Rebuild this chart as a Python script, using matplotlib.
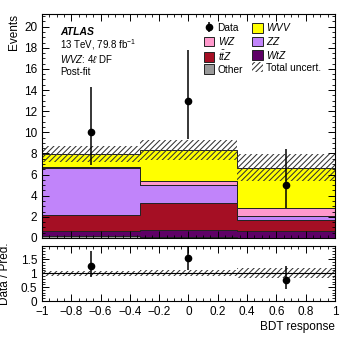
import numpy as np
import matplotlib
matplotlib.use("Agg")
import matplotlib.pyplot as plt
from matplotlib.patches import Patch
from matplotlib.ticker import MultipleLocator, FuncFormatter

plt.rcParams['font.family'] = ['Liberation Sans', 'DejaVu Sans']
plt.rcParams['mathtext.fontset'] = 'custom'
plt.rcParams['mathtext.rm'] = 'Liberation Sans'
plt.rcParams['mathtext.it'] = 'Liberation Sans:italic'
plt.rcParams['mathtext.bf'] = 'Liberation Sans:bold'
plt.rcParams['hatch.linewidth'] = 0.75

# binning of the BDT response
bin_edges = [-1.0, -1.0 / 3, 1.0 / 3, 1.0]

# post-fit yields per sample (stacked bottom -> top)
other = [0.15, 0.05, 0.03]
wtz = [0.50, 0.71, 0.63]
ttz = [1.55, 2.53, 1.04]
zz = [4.40, 1.73, 0.40]
wz = [0.10, 0.38, 0.77]
wvv = [1.23, 2.94, 3.80]
total_unc = [0.75, 0.95, 1.25]

# data with asymmetric (Poisson) errors
data = [10, 13, 5]
data_err_up = [4.3, 4.75, 3.4]
data_err_dn = [3.1, 3.6, 2.2]

samples = [
    ("Other", other, "#999999"),
    (r"$WtZ$", wtz, "#5e0066"),
    (r"$t\bar{t}Z$", ttz, "#a50f24"),
    (r"$ZZ$", zz, "#c184fa"),
    (r"$WZ$", wz, "#ff99cc"),
    (r"$WVV$", wvv, "#ffff00"),
]

edges = np.array(bin_edges)
centers = 0.5 * (edges[:-1] + edges[1:])

fig = plt.figure(figsize=(3.49, 3.37), dpi=100)
ax = fig.add_axes([0.1203, 0.2938, 0.8396, 0.6647])
rax = fig.add_axes([0.1203, 0.1068, 0.8396, 0.1632], sharex=ax)

# stack
base = np.zeros(3)
handles = {}
for name, vals, col in samples:
    vals = np.array(vals)
    ax.stairs(base + vals, edges, baseline=base, fill=True,
              facecolor=col, edgecolor="#222222", linewidth=0.7)
    handles[name] = Patch(facecolor=col, edgecolor="#222222", linewidth=0.7)
    base = base + vals
pred = base

unc = np.array(total_unc)
hatch_col = "#333333"
ax.stairs(pred + unc, edges, baseline=pred - unc, fill=True, facecolor="none",
          edgecolor=hatch_col, linewidth=0, hatch="//////")
unc_handle = Patch(facecolor="none", edgecolor=hatch_col, linewidth=0, hatch="//////")

d = np.array(data, dtype=float)
eb = ax.errorbar(centers, d, yerr=[data_err_dn, data_err_up], fmt="o", color="black",
                 markersize=4.5, elinewidth=1.1, capsize=0, zorder=5)

ax.set_xlim(-1, 1)
ax.set_ylim(0, 21.2)
ax.yaxis.set_major_locator(MultipleLocator(2))
ax.yaxis.set_minor_locator(MultipleLocator(0.5))
ax.xaxis.set_major_locator(MultipleLocator(0.2))
ax.xaxis.set_minor_locator(MultipleLocator(0.05))
ax.tick_params(labelbottom=False)
ax.set_ylabel("Events", loc="top", fontsize=8.5)
ax.yaxis.set_label_coords(-0.075, 1.0)

# labels
ax.text(0.061, 0.92, "ATLAS", transform=ax.transAxes, fontsize=7.5,
        fontweight="bold", fontstyle="italic", va="center")
ax.text(0.061, 0.865, r"13 TeV, 79.8 fb$^{-1}$", transform=ax.transAxes,
        fontsize=7, va="center")
ax.text(0.061, 0.80, r"$WVZ$: 4$\ell$ DF", transform=ax.transAxes,
        fontsize=7, va="center")
ax.text(0.061, 0.742, "Post-fit", transform=ax.transAxes, fontsize=7, va="center")

leg_handles = [eb, handles[r"$WZ$"], handles[r"$t\bar{t}Z$"], handles["Other"],
               handles[r"$WVV$"], handles[r"$ZZ$"], handles[r"$WtZ$"], unc_handle]
leg_labels = ["Data", r"$WZ$", r"$t\bar{t}Z$", "Other",
              r"$WVV$", r"$ZZ$", r"$WtZ$", "Total uncert."]
ax.legend(leg_handles, leg_labels, ncol=2, loc="upper left",
          bbox_to_anchor=(0.535, 0.99), frameon=False, fontsize=7.3,
          borderpad=0, handlelength=1.05, handleheight=1.1, handletextpad=0.3,
          labelspacing=0.17, columnspacing=0.9)

# ratio panel
ratio = d / pred
rax.stairs(1 + unc / pred, edges, baseline=1 - unc / pred, fill=True,
           facecolor="none", edgecolor=hatch_col, linewidth=0, hatch="//////")
rax.axhline(1, color="black", linewidth=0.8)
rax.errorbar(centers, ratio, yerr=[np.array(data_err_dn) / pred, np.array(data_err_up) / pred],
             fmt="o", color="black", markersize=4.5, elinewidth=1.1, capsize=0, zorder=5)
rax.set_ylim(0, 1.98)
rax.yaxis.set_major_locator(MultipleLocator(0.5))
rax.yaxis.set_minor_locator(MultipleLocator(0.1))
rax.xaxis.set_major_formatter(FuncFormatter(lambda v, p: ("%g" % round(v, 2)).replace("-", "\u2212")))
rax.yaxis.set_major_formatter(FuncFormatter(lambda v, p: "%g" % round(v, 2)))
rax.set_ylabel("Data / Pred.", fontsize=8.5)
rax.yaxis.set_label_coords(-0.105, 0.5)
rax.set_xlabel("BDT response", loc="right", fontsize=8.5, labelpad=2)

for a in (ax, rax):
    a.tick_params(which="both", direction="in", top=True, right=True, labelsize=8.5)
    a.tick_params(which="major", length=5, width=0.7)
    a.tick_params(which="minor", length=2.5, width=0.6)
    for s in a.spines.values():
        s.set_linewidth(0.8)

fig.savefig("out.png", dpi=100)
